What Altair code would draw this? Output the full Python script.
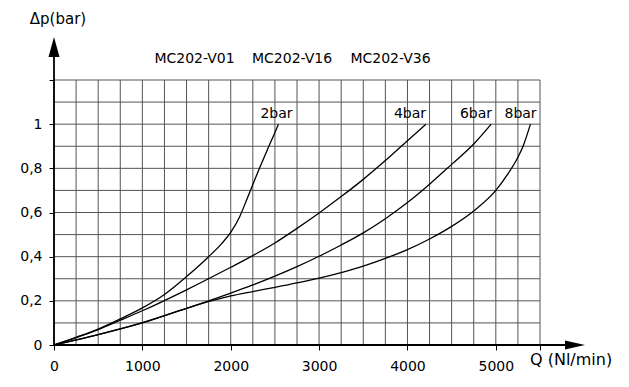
import altair as alt
import pandas as pd

# ---- data ----
q_2bar = [0, 250, 500, 750, 1000, 1250, 1500, 1750, 1900, 2000, 2100, 2183, 2250, 2330, 2410, 2500, 2540]
dp_2bar = [0, 0.035, 0.072, 0.118, 0.168, 0.229, 0.31, 0.40, 0.46, 0.51, 0.58, 0.66, 0.727, 0.805, 0.88, 0.962, 1.0]

q_4bar = [0, 250, 500, 750, 1000, 1500, 2000, 2250, 2500, 2750, 3000, 3250, 3500, 3750, 4000, 4209]
dp_4bar = [0, 0.033, 0.07, 0.112, 0.155, 0.25, 0.352, 0.405, 0.462, 0.528, 0.598, 0.672, 0.75, 0.835, 0.925, 1.0]

q_6bar = [0, 500, 1000, 1500, 2000, 2250, 2500, 2750, 3000, 3250, 3500, 3750, 4000, 4250, 4500, 4750, 4948]
dp_6bar = [0, 0.047, 0.101, 0.166, 0.235, 0.272, 0.312, 0.355, 0.402, 0.453, 0.508, 0.572, 0.645, 0.728, 0.818, 0.91, 1.0]

q_8bar = [0, 500, 1000, 1500, 2000, 2250, 2500, 2750, 3000, 3250, 3500, 3750, 4000, 4250, 4500, 4750, 5000, 5125, 5250, 5313, 5392]
dp_8bar = [0, 0.047, 0.1, 0.166, 0.222, 0.242, 0.261, 0.281, 0.303, 0.328, 0.357, 0.392, 0.432, 0.48, 0.537, 0.607, 0.7, 0.768, 0.85, 0.905, 1.0]

curve_names = ["2bar", "4bar", "6bar", "8bar"]
curve_label_x = [2518, 4029, 4776, 5280]
curve_label_y = [1.046, 1.046, 1.046, 1.046]

model_names = ["MC202-V01", "MC202-V16", "MC202-V36"]
model_x = [1590, 2694, 3808]
model_y = [1.297, 1.297, 1.297]

x_tick_values = [0, 1000, 2000, 3000, 4000, 5000, 5500]
y_tick_values = [0, 0.2, 0.4, 0.6, 0.8, 1.0, 1.2]
x_grid = [i * 250 for i in range(23)]
y_grid = [round(i * 0.1, 1) for i in range(13)]

X_MAX = 5500
Y_MAX = 1.2
FONT = "DejaVu Sans"

# ---- tables ----
rows = []
for name, qs, ds in [("2bar", q_2bar, dp_2bar), ("4bar", q_4bar, dp_4bar),
                     ("6bar", q_6bar, dp_6bar), ("8bar", q_8bar, dp_8bar)]:
    for q, d in zip(qs, ds):
        rows.append({"series": name, "Q": q, "dp": d})
curves_df = pd.DataFrame(rows)

xs = alt.Scale(domain=[0, X_MAX], nice=False, zero=False)
ys = alt.Scale(domain=[0, Y_MAX], nice=False, zero=False)

x_axis = alt.Axis(values=x_tick_values, grid=False, domain=False, title=None,
                  tickSize=5, tickColor="black", tickWidth=1,
                  labelExpr="datum.value > 5200 ? '' : datum.value",
                  labelFont=FONT, labelFontSize=14, labelColor="black",
                  labelPadding=9, labelFlush=False, labelOverlap=False)
y_axis = alt.Axis(values=y_tick_values, grid=False, domain=False, title=None,
                  tickSize=5, tickColor="black", tickWidth=1,
                  labelExpr="datum.value > 1.1 ? '' : replace(toString(datum.value), '.', ',')",
                  labelFont=FONT, labelFontSize=14, labelColor="black",
                  labelPadding=7, labelFlush=False, labelOverlap=False)

grid_v = alt.Chart(pd.DataFrame({"g": x_grid})).mark_rule(color="#555", strokeWidth=1).encode(
    x=alt.X("g:Q", scale=xs, axis=x_axis),
    y=alt.value(0), y2=alt.value(265))
grid_h = alt.Chart(pd.DataFrame({"g": y_grid})).mark_rule(color="#555", strokeWidth=1).encode(
    y=alt.Y("g:Q", scale=ys, axis=y_axis),
    x=alt.value(0), x2=alt.value(486))

lines = alt.Chart(curves_df).mark_line(color="black", strokeWidth=1.3, interpolate="monotone").encode(
    x=alt.X("Q:Q", scale=xs),
    y=alt.Y("dp:Q", scale=ys),
    detail="series:N")

# axis lines with arrows
y_axis_line = alt.Chart(pd.DataFrame({"x": [0], "y": [0], "y2": [1.35]})).mark_rule(
    color="black", strokeWidth=1.8).encode(x="x:Q", y="y:Q", y2="y2:Q")
x_axis_line = alt.Chart(pd.DataFrame({"x": [0], "x2": [5896], "y": [0]})).mark_rule(
    color="black", strokeWidth=1.8).encode(x="x:Q", x2="x2:Q", y="y:Q")
y_arrow = alt.Chart(pd.DataFrame({"x": [0], "y": [1.35]})).mark_point(
    shape="M0,-1L0.55,1L-0.55,1Z", filled=True, color="black", opacity=1, size=400).encode(
    x="x:Q", y="y:Q")
x_arrow = alt.Chart(pd.DataFrame({"x": [5896], "y": [0]})).mark_point(
    shape="M1,0L-1,-0.45L-1,0.45Z", filled=True, color="black", opacity=1, size=400).encode(
    x="x:Q", y="y:Q")

curve_labels = alt.Chart(pd.DataFrame({"t": curve_names, "x": curve_label_x, "y": curve_label_y})).mark_text(
    font=FONT, fontSize=14, color="black", align="center", baseline="middle").encode(
    x="x:Q", y="y:Q", text="t:N")
model_labels = alt.Chart(pd.DataFrame({"t": model_names, "x": model_x, "y": model_y})).mark_text(
    font=FONT, fontSize=14, color="black", align="center", baseline="middle").encode(
    x="x:Q", y="y:Q", text="t:N")
y_title = alt.Chart(pd.DataFrame({"t": ["Δp(bar)"], "x": [45], "y": [1.475]})).mark_text(
    font=FONT, fontSize=15, color="black", align="center", baseline="middle").encode(
    x="x:Q", y="y:Q", text="t:N")
x_title = alt.Chart(pd.DataFrame({"t": ["Q (Nl/min)"], "x": [5387], "y": [-0.068]})).mark_text(
    font=FONT, fontSize=16, color="black", align="left", baseline="middle").encode(
    x="x:Q", y="y:Q", text="t:N")

chart = alt.layer(
    grid_v, grid_h, lines, y_axis_line, x_axis_line, y_arrow, x_arrow,
    curve_labels, model_labels, y_title, x_title
).properties(
    width=486, height=265,
    autosize=alt.AutoSizeParams(type="none"),
    padding={"left": 46, "top": 72, "right": 75, "bottom": 30},
    background="white",
).configure_view(stroke=None)

chart.save("out.html", embed_options={"renderer": "svg", "actions": False})
